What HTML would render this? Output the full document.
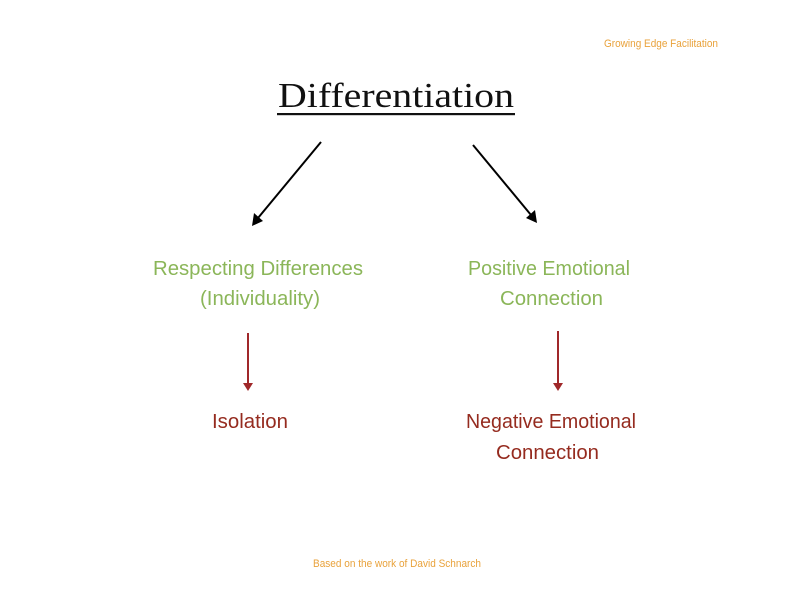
<!DOCTYPE html>
<html><head><meta charset="utf-8"><style>
html,body{margin:0;padding:0;background:#fff;}
svg{display:block;}
text{font-family:"Liberation Sans",sans-serif;}
</style></head><body>
<svg width="792" height="612" viewBox="0 0 792 612" xmlns="http://www.w3.org/2000/svg">
<rect width="792" height="612" fill="#fff"/>
<text x="604" y="47" font-size="11" fill="#e9a23b" textLength="114" lengthAdjust="spacingAndGlyphs">Growing Edge Facilitation</text>
<text x="278" y="107" font-size="35" fill="#111" style="font-family:'Liberation Serif',serif" textLength="236" lengthAdjust="spacingAndGlyphs">Differentiation</text>
<rect x="277" y="113" width="238" height="2.2" fill="#111"/>
<!-- black arrows -->
<line x1="321" y1="142" x2="258" y2="218" stroke="#000" stroke-width="2"/>
<polygon points="252,226 254,213 263,221" fill="#000"/>
<line x1="473" y1="145" x2="531" y2="215" stroke="#000" stroke-width="2"/>
<polygon points="537,223 526,218 535,210" fill="#000"/>
<!-- green text -->
<g fill="#8bb659" font-size="20">
<text x="153" y="275" textLength="210" lengthAdjust="spacingAndGlyphs">Respecting Differences</text>
<text x="200" y="305" textLength="120" lengthAdjust="spacingAndGlyphs">(Individuality)</text>
<text x="468" y="275" textLength="162" lengthAdjust="spacingAndGlyphs">Positive Emotional</text>
<text x="500" y="305" textLength="103" lengthAdjust="spacingAndGlyphs">Connection</text>
</g>
<!-- red arrows -->
<line x1="248" y1="333" x2="248" y2="384" stroke="#a0282a" stroke-width="2"/>
<polygon points="243,383 253,383 248,391" fill="#a0282a"/>
<line x1="558" y1="331" x2="558" y2="384" stroke="#a0282a" stroke-width="2"/>
<polygon points="553,383 563,383 558,391" fill="#a0282a"/>
<!-- red text -->
<g fill="#952b1f" font-size="20">
<text x="212" y="428" textLength="76" lengthAdjust="spacingAndGlyphs">Isolation</text>
<text x="466" y="428" textLength="170" lengthAdjust="spacingAndGlyphs">Negative Emotional</text>
<text x="496" y="459" textLength="103" lengthAdjust="spacingAndGlyphs">Connection</text>
</g>
<text x="313" y="567" font-size="11" fill="#e9a23b" textLength="168" lengthAdjust="spacingAndGlyphs">Based on the work of David Schnarch</text>
</svg>
</body></html>
